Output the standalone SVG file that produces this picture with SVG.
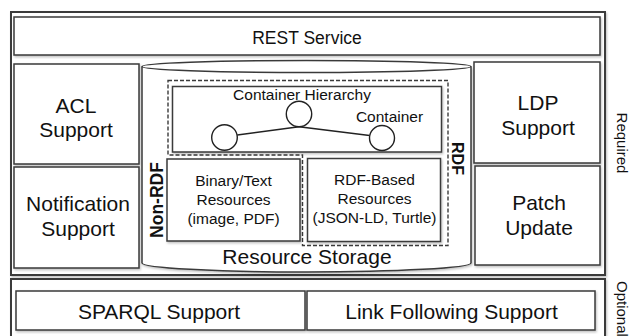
<svg xmlns="http://www.w3.org/2000/svg" width="630" height="336" viewBox="0 0 630 336">
<defs>
<filter id="sh" x="-5%" y="-5%" width="110%" height="115%">
<feDropShadow dx="1" dy="1.5" stdDeviation="1" flood-color="#000" flood-opacity="0.25"/>
</filter>
</defs>
<style>
.box{fill:#fff;stroke:#3a3a3a;stroke-width:1.5;filter:url(#sh)}
.frame{fill:#fff;stroke:#3a3a3a;stroke-width:2;filter:url(#sh)}
.dash{fill:none;stroke:#3a3a3a;stroke-width:1.4;stroke-dasharray:4 2}
.t{font-family:"Liberation Sans",Arial,sans-serif;fill:#111;text-anchor:middle}
.big{font-size:21px}
.mid{font-size:15.5px}
.bold{font-weight:bold;font-size:16px}
.side{font-family:"Liberation Sans",Arial,sans-serif;font-size:15px;fill:#111}
.edge{fill:none;stroke:#222;stroke-width:1.4}
</style>
<rect id="required" class="frame" x="11" y="12" width="594" height="263"/>
<rect id="optional" class="frame" x="11" y="279" width="594" height="70"/>
<text class="side" text-anchor="middle" transform="translate(616.5,143) rotate(90)">Required</text>
<text class="side" text-anchor="start" transform="translate(616.5,281) rotate(90)">Optional</text>

<g id="rest"><rect class="box" x="14" y="17" width="586" height="38"/><text class="t" style="font-size:17.5px" x="307" y="44">REST Service</text></g>
<g id="acl"><rect class="box" x="14" y="64" width="125" height="100"/><text class="t big" x="76" y="113">ACL</text><text class="t big" x="76" y="137">Support</text></g>
<g id="notification"><rect class="box" x="14" y="167" width="125" height="101"/><text class="t big" x="78" y="211">Notification</text><text class="t big" x="78" y="236">Support</text></g>
<g id="ldp"><rect class="box" x="474" y="62" width="126" height="101"/><text class="t big" x="538" y="110">LDP</text><text class="t big" x="538" y="135">Support</text></g>
<g id="patch"><rect class="box" x="475" y="166" width="125" height="99"/><text class="t big" x="539" y="210">Patch</text><text class="t big" x="539" y="235">Update</text></g>

<g id="storage">
<path class="box" d="M142,66.5 V263 A164.5 9 0 0 0 471,263 V66.5"/>
<ellipse cx="306.5" cy="66.5" rx="164.5" ry="6" fill="#fff" stroke="#3a3a3a" stroke-width="1.5"/>
<text class="t big" x="307" y="264">Resource Storage</text>
</g>

<path id="rdf-region" class="dash" d="M168,80.5 H448 V245.5 H302.5 V155 H168 Z"/>
<text class="t bold" transform="translate(452,158.5) rotate(90)">RDF</text>
<text class="t bold" style="font-size:17.5px" transform="translate(162.5,200) rotate(-90)">Non-RDF</text>

<g id="hierarchy">
<rect class="box" x="172.5" y="86.5" width="269" height="65.5"/>
<text class="t mid" x="302" y="100">Container Hierarchy</text>
<text class="t mid" x="389.5" y="121.5">Container</text>
</g>
<g id="connectors">
<line class="edge" x1="237.3" y1="135" x2="299" y2="126.7"/>
<line class="edge" x1="299" y1="126.7" x2="369.6" y2="135.5"/>
</g>
<g id="c1"><circle cx="224.5" cy="137.5" r="12.8" fill="#fff" stroke="#222" stroke-width="1.4"/></g>
<g id="c2"><circle cx="299" cy="114" r="12.7" fill="#fff" stroke="#222" stroke-width="1.4"/></g>
<g id="c3"><circle cx="382" cy="138" r="12.5" fill="#fff" stroke="#222" stroke-width="1.4"/></g>

<g id="binary"><rect class="box" x="167" y="159" width="133" height="82"/>
<text class="t mid" x="233.5" y="186">Binary/Text</text><text class="t mid" x="233.5" y="205">Resources</text><text class="t mid" x="233.5" y="224">(image, PDF)</text></g>
<g id="rdfbased"><rect class="box" x="307.5" y="158.5" width="133" height="83"/>
<text class="t mid" x="374.5" y="185">RDF-Based</text><text class="t mid" x="374.5" y="203.5">Resources</text><text class="t mid" x="374.5" y="222.5">(JSON-LD, Turtle)</text></g>

<g id="sparql"><rect class="box" x="16" y="291" width="289" height="39"/><text class="t big" x="159" y="319">SPARQL Support</text></g>
<g id="link"><rect class="box" x="307" y="291" width="288" height="39"/><text class="t big" x="451.5" y="319">Link Following Support</text></g>
</svg>
